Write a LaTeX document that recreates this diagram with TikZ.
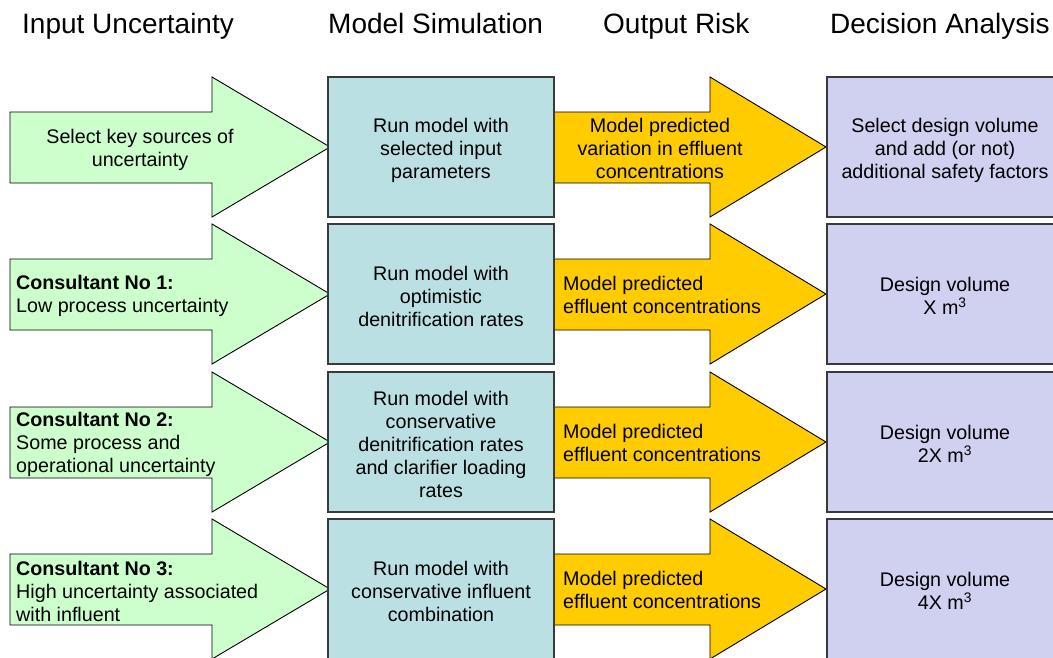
\documentclass[tikz,border=0pt]{standalone}
\usepackage{fontspec}
\setmainfont{Liberation Sans}
\definecolor{grnfill}{HTML}{CCFFCC}
\definecolor{bluefill}{HTML}{BBE0E3}
\definecolor{orgfill}{HTML}{FFCC00}
\definecolor{purfill}{HTML}{D0D0F0}
\definecolor{boxline}{HTML}{3A3A3A}
\newcommand{\grnarrow}[1]{\draw[garrow] (10,#1+35) -- (212,#1+35) -- (212,#1) -- (330,#1+70) -- (212,#1+140) -- (212,#1+106) -- (10,#1+106) -- cycle;}
\newcommand{\orgarrow}[1]{\draw[oarrow] (554,#1+35) -- (710,#1+35) -- (710,#1) -- (826,#1+70) -- (710,#1+140) -- (710,#1+106) -- (554,#1+106) -- cycle;}
\newcommand{\bluebox}[1]{\draw[bbox] (328,#1) rectangle (554,#1+140);}
\newcommand{\purbox}[1]{\draw[pbox] (827,#1) rectangle (1063,#1+140);}
\begin{document}
\begin{tikzpicture}[x=1pt,y=-1pt,
  garrow/.style={draw=black,line width=0.9pt,fill=grnfill,line join=miter},
  oarrow/.style={draw=black,line width=0.9pt,fill=orgfill,line join=miter},
  bbox/.style={draw=boxline,line width=1.3pt,fill=bluefill},
  pbox/.style={draw=boxline,line width=1.3pt,fill=purfill},
  hdr/.style={anchor=base west,inner sep=0pt,font=\fontsize{28}{32}\selectfont},
  ctxt/.style={inner sep=0pt,align=center,font=\fontsize{19.7}{23}\selectfont},
  ltxt/.style={inner sep=0pt,align=left,anchor=west,font=\fontsize{19.7}{23}\selectfont}]
\useasboundingbox (0,0) rectangle (1053,657);
\begin{scope}
\clip (0,0) rectangle (1053,657);
% headers
\node[hdr] (h1) at (22,33) {Input Uncertainty};
\node[hdr] (h2) at (328,33) {Model Simulation};
\node[hdr] (h3) at (603,33) {Output Risk};
\node[hdr] (h4) at (830,33) {Decision Analysis};
% shapes
\foreach \t in {77,224,372,519}{
  \grnarrow{\t}
  \orgarrow{\t}
  \bluebox{\t}
  \purbox{\t}
}
% row 1
\node[ctxt] (g1) at (140,150) {Select key sources of\\uncertainty};
\node[ctxt] (b1) at (441,150) {Run model with\\selected input\\parameters};
\node[ctxt] (o1) at (660,148) {Model predicted\\variation in effluent\\concentrations};
\node[ctxt] (p1) at (945,150) {Select design volume\\and add (or not)\\additional safety factors};
% row 2
\node[ltxt] (g2) at (16,296) {\textbf{Consultant No 1:}\\Low process uncertainty};
\node[ctxt] (b2) at (441,296) {Run model with\\optimistic\\denitrification rates};
\node[ltxt] (o2) at (563,295) {Model predicted\\effluent concentrations};
\node[ctxt] (p2) at (945,296) {Design volume\\X m\textsuperscript{3}};
% row 3
\node[ltxt] (g3) at (16,444) {\textbf{Consultant No 2:}\\Some process and\\operational uncertainty};
\node[ctxt] (b3) at (441,444) {Run model with\\conservative\\denitrification rates\\and clarifier loading\\rates};
\node[ltxt] (o3) at (563,443) {Model predicted\\effluent concentrations};
\node[ctxt] (p3) at (945,444) {Design volume\\2X m\textsuperscript{3}};
% row 4
\node[ltxt] (g4) at (16,591) {\textbf{Consultant No 3:}\\High uncertainty associated\\with influent};
\node[ctxt] (b4) at (441,591) {Run model with\\conservative influent\\combination};
\node[ltxt] (o4) at (563,590) {Model predicted\\effluent concentrations};
\node[ctxt] (p4) at (945,591) {Design volume\\4X m\textsuperscript{3}};
\end{scope}
\end{tikzpicture}
\end{document}
